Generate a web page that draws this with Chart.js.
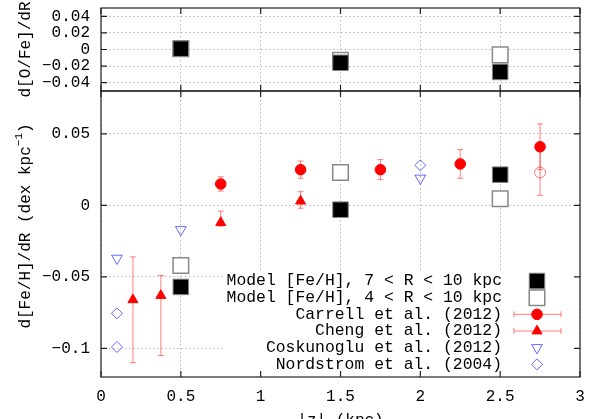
<!DOCTYPE html>
<html>
<head>
<meta charset="utf-8">
<script src="https://cdn.jsdelivr.net/npm/chart.js@4.4.1/dist/chart.umd.min.js"></script>
<style>
  html, body { margin: 0; padding: 0; background: #fff; }
  #wrap { width: 598px; height: 419px; }
</style>
</head>
<body>
<div id="wrap"><canvas id="gradChart" width="598" height="419"></canvas></div>
<script>
// model bins in |z| (kpc)
const modelZ = [0.5, 1.5, 2.5];
const oFeModel7 = [0.001, -0.016, -0.027];
const oFeModel4 = [0.001, -0.013, -0.0065];
const feHModel7 = [-0.057, -0.003, 0.0215];
const feHModel4 = [-0.042, 0.023, 0.0047];

const carrellZ = [0.75, 1.25, 1.75, 2.25, 2.75];
const carrellVal = [0.015, 0.025, 0.025, 0.029, 0.041];
const carrellLo = [0.010, 0.019, 0.018, 0.019, 0.025];
const carrellHi = [0.020, 0.031, 0.032, 0.039, 0.057];

// lighter open circle in the last Carrell bin (not in the key)
const carrellAltZ = [2.75];
const carrellAltVal = [0.023];
const carrellAltLo = [0.007];
const carrellAltHi = [0.040];

const chengZ = [0.2, 0.375, 0.75, 1.25];
const chengVal = [-0.066, -0.063, -0.012, 0.003];
const chengLo = [-0.110, -0.105, -0.0145, -0.002];
const chengHi = [-0.036, -0.049, -0.004, 0.0096];

const coskZ = [0.1, 0.5, 2.0];
const coskVal = [-0.037, -0.017, 0.019];

const nordZ = [0.1, 0.1, 2.0];
const nordVal = [-0.0755, -0.099, 0.028];

const xTicks = [0, 0.5, 1, 1.5, 2, 2.5, 3];
const topTicks = [-0.04, -0.02, 0, 0.02, 0.04];
const botTicks = [-0.1, -0.05, 0, 0.05];

const FONT_FAMILY = "'Liberation Mono', 'DejaVu Sans Mono', monospace";
const RED = '#ff0000';
const PALE_RED = 'rgba(255, 0, 0, 0.5)';
const BLUE = 'rgba(40, 40, 255, 0.7)';

Chart.defaults.font.family = FONT_FAMILY;
Chart.defaults.font.size = 16;
Chart.defaults.color = '#000';

const pts = (xs, ys) => xs.map((x, i) => ({ x: x, y: ys[i] }));
const fmt = v => v === 0 ? '0' : String(+v.toFixed(3)).replace('-', '\u2212');

function fixTicks(list) {
    return scale => { scale.ticks = list.map(v => ({ value: v })); };
}
// fixed axis box, no extra room for half tick labels
function fixWidth(w) {
    return s => { s.width = w; s.paddingTop = 0; s.paddingBottom = 0; };
}

// error bars, legend box, frame and inward ticks (gnuplot look)
const panelPlugin = {
    id: 'panels',
    beforeDatasetsDraw(chart) {
        const { ctx, chartArea: a } = chart;
        ctx.save();
        ctx.fillStyle = '#fff';
        ctx.fillRect(a.right - 355, a.bottom - 107, 355, 107);

        ctx.strokeStyle = PALE_RED;
        ctx.lineWidth = 1;
        chart.data.datasets.forEach(ds => {
            if (!ds.errLo) return;
            const xs = chart.scales.x, ys = chart.scales[ds.yAxisID];
            ds.data.forEach((p, j) => {
                const px = xs.getPixelForValue(p.x);
                const y1 = ys.getPixelForValue(ds.errLo[j]);
                const y2 = ys.getPixelForValue(ds.errHi[j]);
                ctx.beginPath();
                ctx.moveTo(px, y1); ctx.lineTo(px, y2);
                ctx.moveTo(px - 3, y1); ctx.lineTo(px + 3, y1);
                ctx.moveTo(px - 3, y2); ctx.lineTo(px + 3, y2);
                ctx.stroke();
            });
        });
        ctx.restore();
    },
    afterDatasetsDraw(chart) {
        const { ctx, chartArea: a } = chart;
        const xs = chart.scales.x;
        ctx.save();

        // legend
        ctx.font = '16.4px ' + FONT_FAMILY;
        ctx.textAlign = 'right';
        ctx.textBaseline = 'middle';
        let row = 0;
        chart.data.datasets.forEach(ds => {
            if (!ds.label) return;
            const y = a.bottom - 96 + row * 16.67;
            const sx = a.right - 43;
            ctx.fillStyle = '#000';
            ctx.fillText(ds.label, a.right - 78, y);
            if (ds.errLo) {
                ctx.strokeStyle = PALE_RED;
                ctx.lineWidth = 1;
                ctx.beginPath();
                ctx.moveTo(sx - 23, y); ctx.lineTo(sx + 24, y);
                ctx.moveTo(sx - 23, y - 3); ctx.lineTo(sx - 23, y + 3);
                ctx.moveTo(sx + 24, y - 3); ctx.lineTo(sx + 24, y + 3);
                ctx.stroke();
            }
            ctx.fillStyle = ds.backgroundColor;
            ctx.strokeStyle = ds.borderColor;
            ctx.lineWidth = ds.borderWidth;
            Chart.helpers.drawPoint(ctx, {
                pointStyle: ds.pointStyle,
                radius: ds.pointRadius,
                rotation: ds.pointRotation || 0,
                borderWidth: ds.borderWidth
            }, sx, y);
            row++;
        });

        // frames and inward ticks for both panels
        ctx.strokeStyle = '#222';
        ctx.lineWidth = 1.2;
        [['yTop', topTicks], ['yBot', botTicks]].forEach(([id, list]) => {
            const s = chart.scales[id];
            ctx.strokeRect(a.left, s.top, a.right - a.left, s.bottom - s.top);
            ctx.beginPath();
            xTicks.forEach(v => {
                const px = xs.getPixelForValue(v);
                ctx.moveTo(px, s.top); ctx.lineTo(px, s.top + 6);
                ctx.moveTo(px, s.bottom); ctx.lineTo(px, s.bottom - 6);
            });
            list.forEach(v => {
                const py = s.getPixelForValue(v);
                ctx.moveTo(a.left, py); ctx.lineTo(a.left + 6, py);
                ctx.moveTo(a.right, py); ctx.lineTo(a.right - 6, py);
            });
            ctx.stroke();
        });
        ctx.restore();
    },
    afterDraw(chart) {
        // lower y title with a real superscript
        const { ctx } = chart;
        const s = chart.scales.yBot;
        const main = 'd[Fe/H]/dR (dex kpc';
        const sup = '\u22121';
        ctx.save();
        ctx.fillStyle = '#000';
        ctx.textBaseline = 'middle';
        ctx.textAlign = 'left';
        ctx.font = '16px ' + FONT_FAMILY;
        const wMain = ctx.measureText(main).width;
        const wClose = ctx.measureText(')').width;
        ctx.font = '11px ' + FONT_FAMILY;
        const wSup = ctx.measureText(sup).width;
        const total = wMain + wSup + wClose;
        ctx.translate(26, (s.top + s.bottom) / 2 - 8);
        ctx.rotate(-Math.PI / 2);
        let x0 = -total / 2;
        ctx.font = '16px ' + FONT_FAMILY;
        ctx.fillText(main, x0, 0);
        ctx.font = '11px ' + FONT_FAMILY;
        ctx.fillText(sup, x0 + wMain, -7);
        ctx.font = '16px ' + FONT_FAMILY;
        ctx.fillText(')', x0 + wMain + wSup, 0);
        ctx.restore();
    }
};

const filledSquare = { pointStyle: 'rect', pointRadius: 11, backgroundColor: '#000', borderColor: '#888', borderWidth: 1 };
const openSquare = { pointStyle: 'rect', pointRadius: 11, backgroundColor: '#fff', borderColor: '#888', borderWidth: 1.5 };

const datasets = [
    Object.assign({ label: 'Model [Fe/H], 7 < R < 10 kpc', data: pts(modelZ, feHModel7), yAxisID: 'yBot' }, filledSquare),
    Object.assign({ label: 'Model [Fe/H], 4 < R < 10 kpc', data: pts(modelZ, feHModel4), yAxisID: 'yBot' }, openSquare),
    {
        label: 'Carrell et al. (2012)', data: pts(carrellZ, carrellVal), yAxisID: 'yBot',
        errLo: carrellLo, errHi: carrellHi,
        pointStyle: 'circle', pointRadius: 5.3, backgroundColor: RED, borderColor: RED, borderWidth: 1
    },
    {
        label: 'Cheng et al. (2012)', data: pts(chengZ, chengVal), yAxisID: 'yBot',
        errLo: chengLo, errHi: chengHi,
        pointStyle: 'triangle', pointRadius: 5.8, backgroundColor: RED, borderColor: RED, borderWidth: 1
    },
    {
        label: 'Coskunoglu et al. (2012)', data: pts(coskZ, coskVal), yAxisID: 'yBot',
        pointStyle: 'triangle', pointRotation: 180, pointRadius: 6.2,
        backgroundColor: 'rgba(0,0,0,0)', borderColor: BLUE, borderWidth: 1
    },
    {
        label: 'Nordstrom et al. (2004)', data: pts(nordZ, nordVal), yAxisID: 'yBot',
        pointStyle: 'rectRot', pointRadius: 5.5,
        backgroundColor: 'rgba(0,0,0,0)', borderColor: BLUE, borderWidth: 1
    },
    {
        data: pts(carrellAltZ, carrellAltVal), yAxisID: 'yBot',
        errLo: carrellAltLo, errHi: carrellAltHi,
        pointStyle: 'circle', pointRadius: 5.5,
        backgroundColor: 'rgba(0,0,0,0)', borderColor: PALE_RED, borderWidth: 1
    },
    Object.assign({ data: pts(modelZ, oFeModel7), yAxisID: 'yTop' }, filledSquare),
    Object.assign({ data: pts(modelZ, oFeModel4), yAxisID: 'yTop' }, openSquare)
];

const gridStyle = { color: '#b8b8b8', drawTicks: false };
const borderStyle = { display: false, dash: [1.5, 2.5] };

new Chart(document.getElementById('gradChart'), {
    type: 'scatter',
    data: { datasets: datasets },
    options: {
        responsive: false,
        animation: false,
        events: [],
        // big square markers would otherwise push the plot area down
        layout: { autoPadding: false, padding: { top: 8, right: 18, left: 0, bottom: 0 } },
        plugins: { legend: { display: false }, tooltip: { enabled: false } },
        scales: {
            x: {
                type: 'linear', position: 'bottom', min: 0, max: 3,
                afterBuildTicks: fixTicks(xTicks),
                afterFit: s => { s.height = 42; },
                ticks: { callback: v => fmt(v), padding: 10, maxRotation: 0, autoSkip: false },
                grid: gridStyle,
                border: borderStyle,
                title: { display: true, text: '|z| (kpc)', padding: { top: 0, bottom: -11 } }
            },
            yBot: {
                type: 'linear', position: 'left', stack: 'panels', stackWeight: 286, weight: 0,
                min: -0.12, max: 0.08,
                afterBuildTicks: fixTicks(botTicks),
                afterFit: fixWidth(101),
                ticks: { callback: v => fmt(v), padding: 11, autoSkip: false },
                grid: gridStyle,
                border: borderStyle
            },
            yTop: {
                type: 'linear', position: 'left', stack: 'panels', stackWeight: 83, weight: 1,
                min: -0.05, max: 0.05,
                afterBuildTicks: fixTicks(topTicks),
                afterFit: fixWidth(101),
                ticks: { callback: v => fmt(v), padding: 11, autoSkip: false },
                grid: gridStyle,
                border: borderStyle,
                title: { display: true, text: 'd[O/Fe]/dR', padding: { top: 16, bottom: 0 } }
            }
        }
    },
    plugins: [panelPlugin]
});
</script>
</body>
</html>
